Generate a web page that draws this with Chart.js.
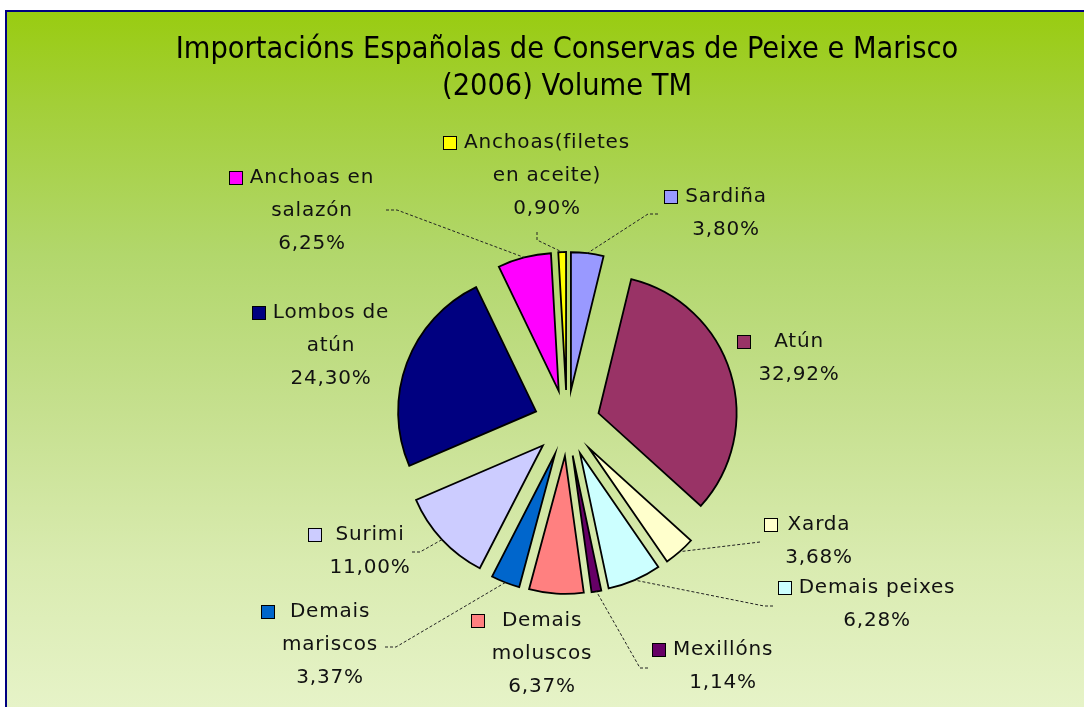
<!DOCTYPE html>
<html>
<head>
<meta charset="utf-8">
<script src="https://cdn.jsdelivr.net/npm/chart.js@4.4.1/dist/chart.umd.min.js"></script>
<style>
  html, body { margin: 0; padding: 0; background: #fff; overflow: hidden; }
  #frame {
    position: absolute; left: 5px; top: 10px; width: 1100px; height: 720px;
    border: 2px solid #000080; box-sizing: border-box;
    background: linear-gradient(to bottom, #99cc11 0%, #a3cf38 13%, #b2d76c 34%, #c6e08f 56%, #d9ebb0 77%, #e8f4cb 100%);
  }
  #wrap { position: absolute; left: 0; top: 0; width: 1084px; height: 707px; }
</style>
</head>
<body>
<div id="frame"></div>
<div id="wrap"><canvas id="pie" width="1084" height="707"></canvas></div>
<script>
// Spanish imports of canned fish & seafood, 2006, share of volume (%)
var CATEGORIES = ['Sardiña', 'Atún', 'Xarda', 'Demais peixes', 'Mexillóns', 'Demais moluscos',
  'Demais mariscos', 'Surimi', 'Lombos de atún', 'Anchoas en salazón', 'Anchoas(filetes en aceite)'];
var SHARES = [3.80, 32.92, 3.68, 6.28, 1.14, 6.37, 3.37, 11.00, 24.30, 6.25, 0.90];
var COLORS = ['#9999ff', '#993366', '#ffffcc', '#ccffff', '#660066', '#ff8080',
  '#0066cc', '#ccccff', '#000080', '#ff00ff', '#ffff00'];
// how each category name wraps in its label
var LABEL_LINES = [['Sardiña'], ['Atún'], ['Xarda'], ['Demais peixes'], ['Mexillóns'], ['Demais', 'moluscos'],
  ['Demais', 'mariscos'], ['Surimi'], ['Lombos de', 'atún'], ['Anchoas en', 'salazón'], ['Anchoas(filetes', 'en aceite)']];

// label placement (text centre, first line) and leader-line bends; leader ends on the slice
var LABEL_POS = [
  { x: 726, y: 197, leader: [[658, 214], [648, 214]] },
  { x: 799, y: 342, leader: null },
  { x: 819, y: 525, leader: [[760, 542]] },
  { x: 877, y: 588, leader: [[773, 606], [764, 606]] },
  { x: 723, y: 650, leader: [[648, 668], [640, 668]] },
  { x: 542, y: 621, leader: null },
  { x: 330, y: 612, leader: [[385, 647], [396, 647]] },
  { x: 370, y: 535, leader: [[412, 552], [420, 552]] },
  { x: 331, y: 313, leader: null },
  { x: 312, y: 178, leader: [[386, 210], [397, 210]] },
  { x: 547, y: 143, leader: [[537, 232], [537, 240]] }
];

var EXPLODE = 33;
var LINE_H = 33;
var LABEL_FONT = '20px "DejaVu Sans", sans-serif';

function pct(v) { return v.toFixed(2).replace('.', ',') + '%'; }

// pull every slice out from the centre by the same distance (Excel style explosion)
var explodePlugin = {
  id: 'explode',
  afterDatasetUpdate: function(chart, args) {
    args.meta.data.forEach(function(arc) {
      arc.draw = function(ctx) {
        var mid = (this.startAngle + this.endAngle) / 2;
        ctx.save();
        ctx.translate(Math.cos(mid) * EXPLODE, Math.sin(mid) * EXPLODE);
        Chart.ArcElement.prototype.draw.call(this, ctx);
        ctx.restore();
      };
    });
  }
};

var labelPlugin = {
  id: 'sliceLabels',
  afterDatasetsDraw: function(chart) {
    var ctx = chart.ctx;
    var arcs = chart.getDatasetMeta(0).data;
    ctx.save();
    ctx.font = LABEL_FONT;
    if ('letterSpacing' in ctx) ctx.letterSpacing = '0.8px';
    arcs.forEach(function(arc, i) {
      var pos = LABEL_POS[i];
      var mid = (arc.startAngle + arc.endAngle) / 2;
      var r = arc.outerRadius + EXPLODE;
      var ax = arc.x + Math.cos(mid) * r, ay = arc.y + Math.sin(mid) * r;

      if (pos.leader) {
        ctx.beginPath();
        ctx.setLineDash([3, 2]);
        ctx.lineWidth = 1;
        ctx.strokeStyle = '#222';
        ctx.moveTo(pos.leader[0][0], pos.leader[0][1]);
        for (var k = 1; k < pos.leader.length; k++) ctx.lineTo(pos.leader[k][0], pos.leader[k][1]);
        ctx.lineTo(ax, ay);
        ctx.stroke();
        ctx.setLineDash([]);
      }

      var lines = LABEL_LINES[i].concat([pct(SHARES[i])]);
      var widest = Math.max.apply(null, lines.map(function(t) { return ctx.measureText(t).width; }));
      ctx.fillStyle = '#111';
      ctx.textAlign = 'center';
      ctx.textBaseline = 'middle';
      lines.forEach(function(t, j) { ctx.fillText(t, pos.x, pos.y + j * LINE_H); });

      var sx = Math.round(pos.x - widest / 2 - 21) + 0.5, sy = Math.round(pos.y - 7) + 0.5;
      ctx.fillStyle = COLORS[i];
      ctx.fillRect(sx, sy, 13, 13);
      ctx.lineWidth = 1;
      ctx.strokeStyle = '#000';
      ctx.strokeRect(sx, sy, 13, 13);
    });
    ctx.restore();
  }
};

new Chart(document.getElementById('pie'), {
  type: 'pie',
  data: {
    labels: CATEGORIES,
    datasets: [{
      data: SHARES,
      backgroundColor: COLORS,
      borderColor: '#000',
      borderWidth: 1.8,
      borderJoinStyle: 'miter',
      radius: 138
    }]
  },
  options: {
    responsive: false,
    animation: false,
    events: [],
    layout: { padding: { left: 50, right: 0, top: 0, bottom: 0 } },
    plugins: {
      legend: { display: false },
      tooltip: { enabled: false },
      title: {
        display: true,
        text: ['Importacións Españolas de Conservas de Peixe e Marisco', '(2006) Volume TM'],
        color: '#000',
        font: { family: '"Liberation Sans Narrow", "DejaVu Sans Condensed", sans-serif', size: 30.4, weight: 'normal', lineHeight: 37 / 30.4 },
        padding: { top: 31.5, bottom: 33.5 }
      }
    }
  },
  plugins: [explodePlugin, labelPlugin]
});
</script>
</body>
</html>
